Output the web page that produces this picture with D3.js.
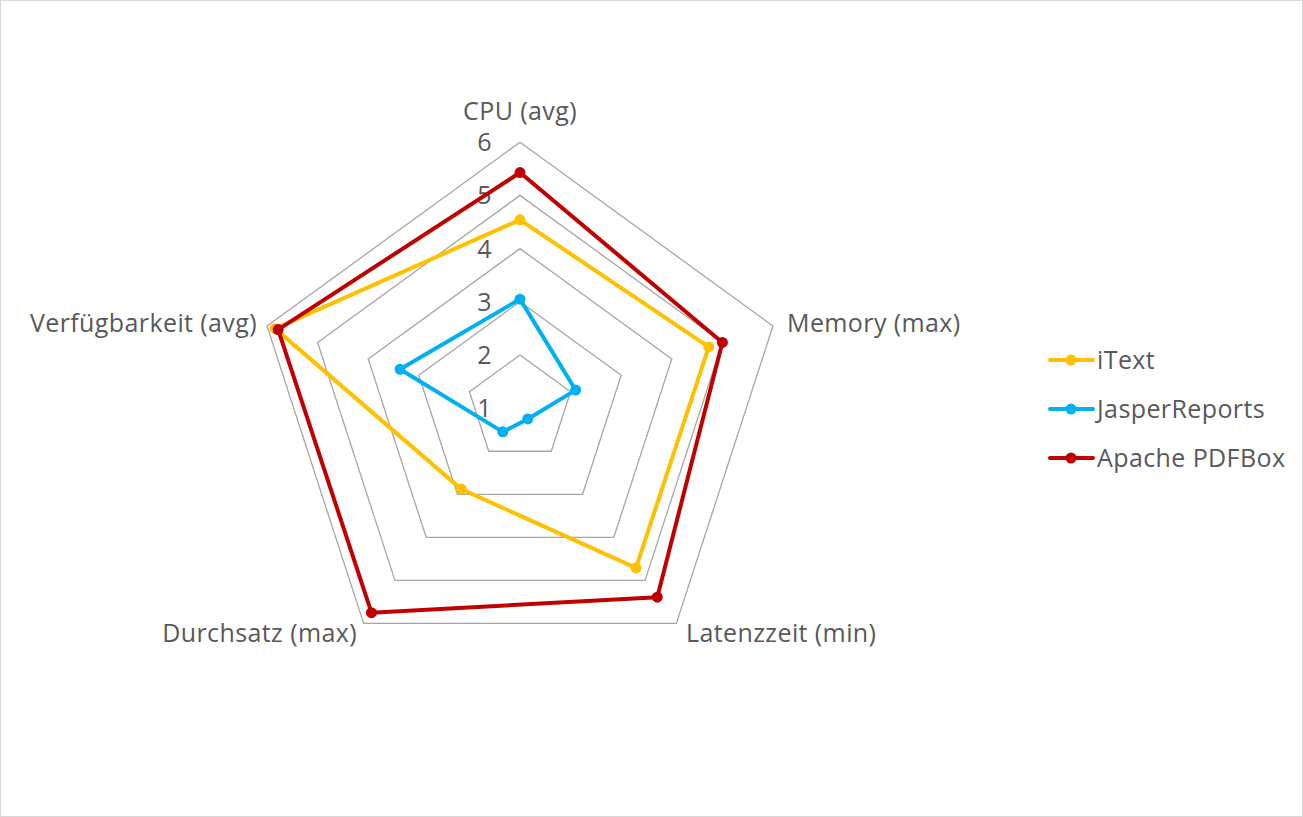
<!DOCTYPE html>
<html><head><meta charset="utf-8">
<script src="https://cdn.jsdelivr.net/npm/d3@7"></script>
<style>
body{margin:0;background:#fff;}
svg{display:block;font-family:"Segoe UI","Open Sans","Noto Sans",sans-serif;}
text{letter-spacing:0.4px;}
</style></head>
<body>
<svg id="c" width="1303" height="817"></svg>
<script>
const axes = ["CPU (avg)", "Memory (max)", "Latenzzeit (min)", "Durchsatz (max)", "Verfügbarkeit (avg)"];
const seriesNames = ["iText", "JasperReports", "Apache PDFBox"];
const iText = [4.54, 4.73, 4.71, 2.88, 5.84];
const jasper = [3.05, 2.10, 1.25, 1.55, 3.37];
const pdfbox = [5.43, 5.0, 5.39, 5.75, 5.78];
const ticks = [1, 2, 3, 4, 5, 6];
const colors = ["#FFC000", "#00B0F0", "#C00000"];
const seriesData = [iText, jasper, pdfbox];

const FS = 25;
const svg = d3.select("#c");
svg.append("rect").attr("x",0.5).attr("y",0.5).attr("width",1302).attr("height",816)
  .attr("fill","#fff").attr("stroke","#d9d9d9");

const cx = 520, cy = 408.2, R = 266;
const r = d3.scaleLinear().domain([1, 6]).range([0, R]);
const ang = i => i * 2 * Math.PI / axes.length;
const pt = (i, v) => [cx + r(v) * Math.sin(ang(i)), cy - r(v) * Math.cos(ang(i))];

const g = svg.append("g");
// grid rings
ticks.slice(1).forEach(t => {
  g.append("polygon")
    .attr("points", axes.map((a, i) => pt(i, t).join(",")).join(" "))
    .attr("fill", "none").attr("stroke", "#a6a6a6").attr("stroke-width", 1.3);
});
// tick labels
ticks.forEach(t => {
  g.append("text").attr("x", cx - 28).attr("y", cy - r(t)).attr("dy", "0.36em")
    .attr("text-anchor", "end").attr("fill", "#595959").attr("font-size", FS).text(t);
});
// axis labels
const labelPos = [
  {x: cx, y: 111, anchor: "middle"},
  {x: 787, y: 323, anchor: "start"},
  {x: 686, y: 633, anchor: "start"},
  {x: 357, y: 633, anchor: "end"},
  {x: 257, y: 323, anchor: "end"}
];
axes.forEach((a, i) => {
  g.append("text").attr("x", labelPos[i].x).attr("y", labelPos[i].y).attr("dy", "0.36em")
    .attr("text-anchor", labelPos[i].anchor).attr("fill", "#595959").attr("font-size", FS).text(a);
});
// series
const line = d3.line().curve(d3.curveLinearClosed);
seriesData.forEach((vals, s) => {
  const pts = vals.map((v, i) => pt(i, v));
  g.append("path").attr("d", line(pts)).attr("fill", "none")
    .attr("stroke", colors[s]).attr("stroke-width", 4).attr("stroke-linejoin", "round");
  g.selectAll(null).data(pts).enter().append("circle")
    .attr("cx", d => d[0]).attr("cy", d => d[1]).attr("r", 5.5).attr("fill", colors[s]);
});
// legend
const leg = svg.append("g");
seriesNames.forEach((n, s) => {
  const y = 360 + s * 49;
  leg.append("line").attr("x1", 1050).attr("x2", 1093).attr("y1", y).attr("y2", y)
    .attr("stroke", colors[s]).attr("stroke-width", 4).attr("stroke-linecap", "round");
  leg.append("circle").attr("cx", 1071).attr("cy", y).attr("r", 5.5).attr("fill", colors[s]);
  leg.append("text").attr("x", 1097).attr("y", y).attr("dy", "0.36em").attr("fill", "#595959")
    .attr("font-size", FS).text(n);
});
</script>
</body></html>
